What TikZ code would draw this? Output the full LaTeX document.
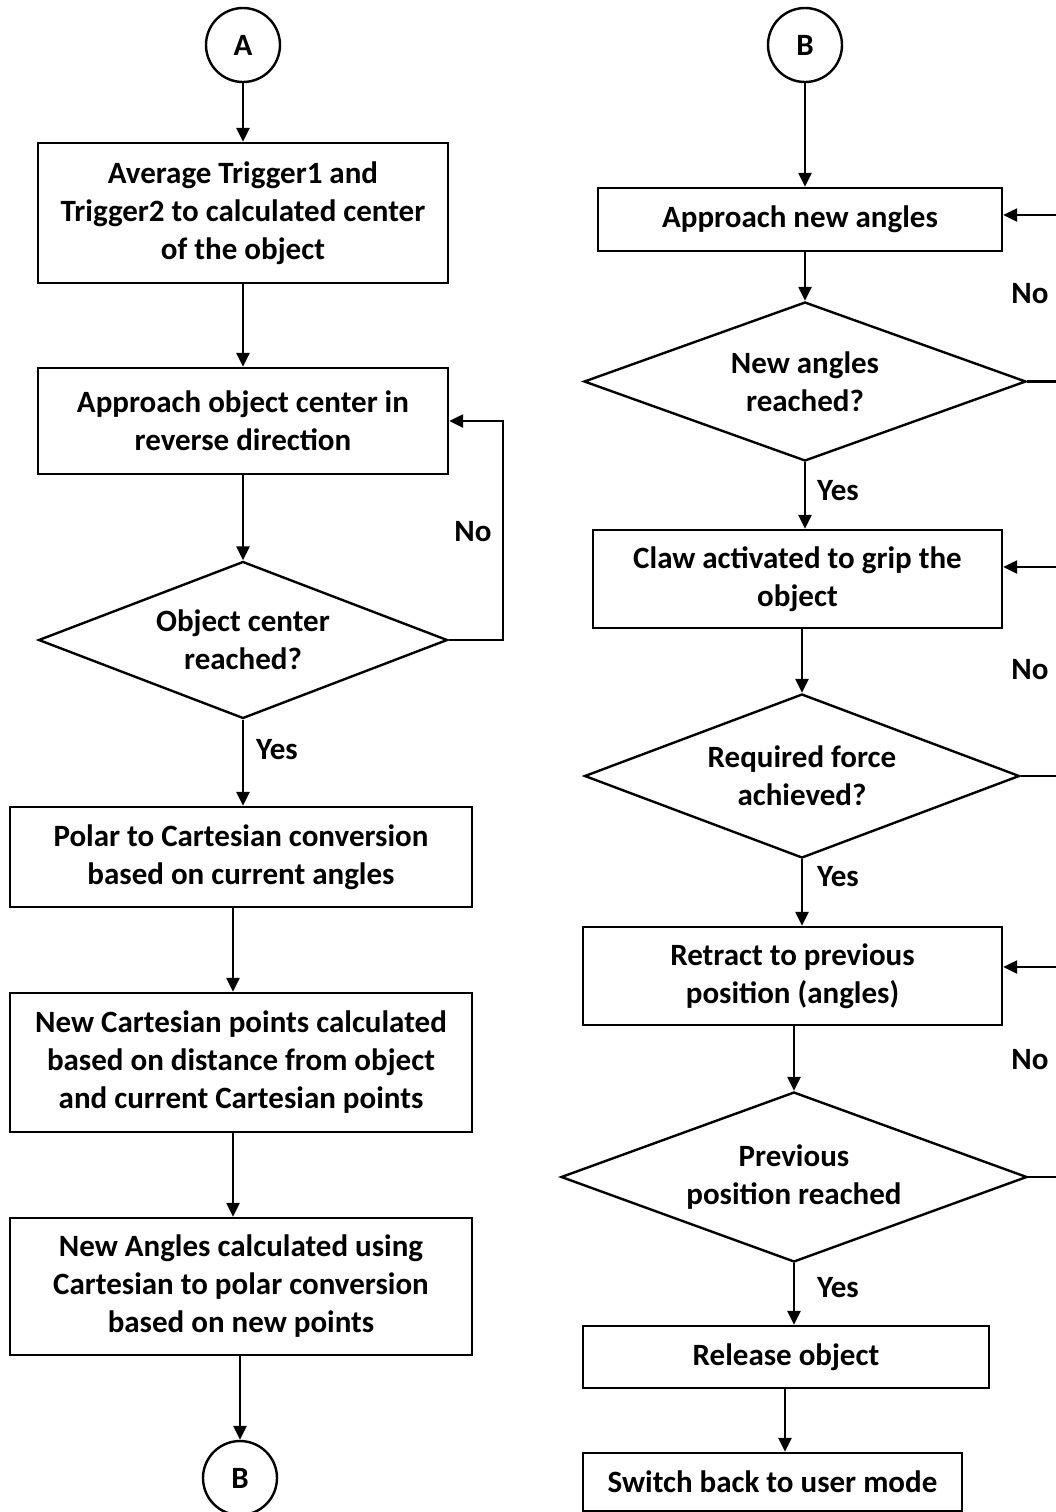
\documentclass[tikz,border=0pt]{standalone}
\usepackage{fontspec}
\setmainfont{Carlito}
\usetikzlibrary{shapes.geometric,arrows.meta,calc}
\tikzset{
  box/.style={draw,line width=1.2pt,rectangle,inner sep=2pt,align=center,
    font=\fontsize{15.5}{19}\selectfont\bfseries},
  decision/.style={draw,line width=1.2pt,diamond,inner sep=0pt,align=center,
    font=\fontsize{15.5}{19}\selectfont\bfseries},
  connector/.style={draw,line width=1.2pt,circle,minimum size=37pt,inner sep=0pt,
    font=\fontsize{15.5}{19}\selectfont\bfseries},
  arr/.style={line width=1.2pt,-{Triangle[length=7pt,width=6.5pt]}},
  lbl/.style={font=\fontsize{15.5}{19}\selectfont\bfseries}
}
\begin{document}
\begin{tikzpicture}[x=0.5pt,y=-0.5pt]
\useasboundingbox (0,0) rectangle (1056,1512);
\clip (0,0) rectangle (1056,1512);
% left column
\node[connector] (ca) at (243,45) {A};
\node[box,minimum width=205pt,minimum height=70pt] (avg) at (243,213)
  {Average Trigger1 and\\Trigger2 to calculated center\\of the object};
\node[box,minimum width=205pt,minimum height=53pt] (appr) at (243,421)
  {Approach object center in\\reverse direction};
\node[decision,aspect=2.6,minimum width=204.5pt,minimum height=78.5pt] (ctr) at (243,640)
  {Object center\\reached?};
\node[box,minimum width=231pt,minimum height=50pt] (polar) at (241,857)
  {Polar to Cartesian conversion\\based on current angles};
\node[box,minimum width=231pt,minimum height=69.5pt] (newpts) at (241,1062.5)
  {New Cartesian points calculated\\based on distance from object\\and current Cartesian points};
\node[box,minimum width=231pt,minimum height=68.5pt] (newang) at (241,1286.5)
  {New Angles calculated using\\Cartesian to polar conversion\\based on new points};
\node[connector] (cbl) at (240,1478) {B};

\draw[arr] (ca) -- (avg);
\draw[arr] (avg.south) -- (appr.north);
\draw[arr] (appr.south) -- (ctr.north);
\draw[arr] (ctr.south) -- (ctr.south |- polar.north);
\draw[arr] (polar.south -| 233,0) -- (newpts.north -| 233,0);
\draw[arr] (newpts.south -| 233,0) -- (newang.north -| 233,0);
\draw[arr] (newang.south -| cbl.north) -- (cbl.north);
\draw[arr] (ctr.east) -- (503,640) |- (appr.east);
\node[lbl] (nol) at (473,532) {No};
\node[lbl] (yesl) at (277,750) {Yes};

% right column
\node[connector] (cbr) at (805,45) {B};
\node[box,minimum width=202pt,minimum height=31.5pt] (newa) at (800,219.5)
  {Approach new angles};
\node[decision,aspect=2.78,minimum width=221pt,minimum height=79.5pt] (reach) at (805,381.5)
  {New angles\\reached?};
\node[box,minimum width=204.5pt,minimum height=49pt] (claw) at (797.5,579)
  {Claw activated to grip the\\object};
\node[decision,aspect=2.65,minimum width=217.5pt,minimum height=82pt] (force) at (802,776)
  {Required force\\achieved?};
\node[box,minimum width=209.5pt,minimum height=49pt] (retr) at (792.5,976)
  {Retract to previous\\position (angles)};
\node[decision,aspect=2.74,minimum width=233pt,minimum height=85pt] (prev) at (794,1177)
  {Previous\\position reached};
\node[box,minimum width=203pt,minimum height=31pt] (rel) at (786,1357)
  {Release object};
\node[box,minimum width=189.5pt,minimum height=29pt] (user) at (772.5,1482)
  {Switch back to user mode};

\draw[arr] (cbr) -- (cbr.south |- newa.north);
\draw[arr] (newa.south -| reach.north) -- (reach.north);
\draw[arr] (reach.south) -- (reach.south |- claw.north);
\draw[arr] (claw.south -| force.north) -- (force.north);
\draw[arr] (force.south) -- (force.south |- retr.north);
\draw[arr] (retr.south -| prev.north) -- (prev.north);
\draw[arr] (prev.south) -- (prev.south |- rel.north);
\draw[arr] (rel.south -| 785,0) -- (user.north -| 785,0);
\draw[arr] (reach.east) -- (1080,381.5) |- ($(newa.east)+(0,-4.5)$);
\draw[arr] (force.east) -- (1080,776) |- ($(claw.east)+(0,-12)$);
\draw[arr] (prev.east) -- (1080,1177) |- ($(retr.east)+(0,-9)$);
\node[lbl] (no1) at (1030,294) {No};
\node[lbl] (no2) at (1030,670) {No};
\node[lbl] (no3) at (1030,1060) {No};
\node[lbl] (yes1) at (838,491) {Yes};
\node[lbl] (yes2) at (838,877) {Yes};
\node[lbl] (yes3) at (838,1288) {Yes};
\end{tikzpicture}
\end{document}
